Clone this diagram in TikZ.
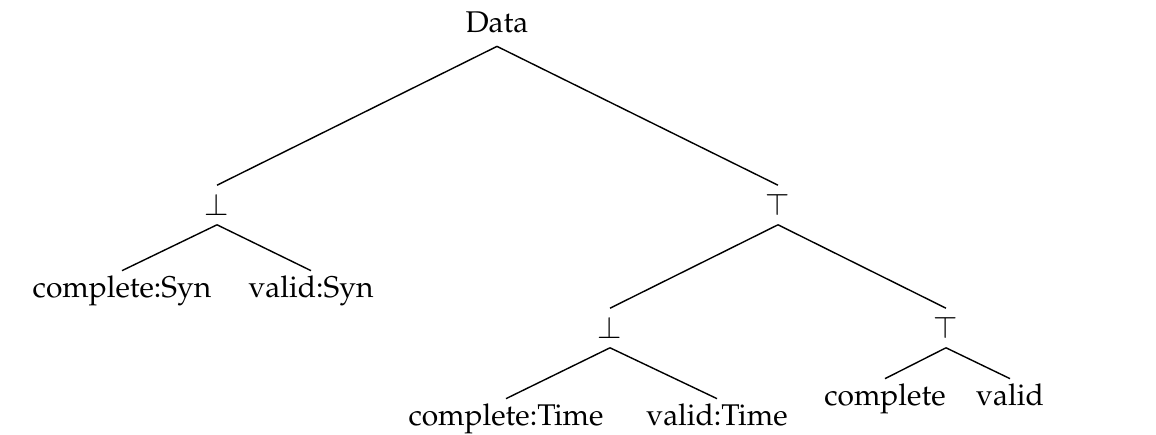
\documentclass[tikz,border=0pt]{standalone}
\usepackage[T1]{fontenc}
\usepackage{amsmath}
\usepackage{amssymb}
\usepackage{mathpazo}
\usepackage{tikz}

\tikzset{
    lbl/.style={font=\fontsize{21.3}{26}\selectfont, inner xsep=0pt, inner ysep=0.11cm},
    root/.style={lbl, inner ysep=0.35cm},
    op/.style={font=\fontsize{21.3}{26}\selectfont, inner sep=0pt, minimum height=0.975cm},
    edge/.style={line width=1pt}
}

\begin{document}
\begin{tikzpicture}[x=0.025cm, y=-0.025cm]
        \useasboundingbox (0,0) rectangle (1156,434);

        % Nodes
        \node[root, anchor=base] (data) at (497, 32) {Data};
        \node[op] (bot1) at (217, 205) {$\bot$};
        \node[op] (top1) at (778, 205) {$\top$};
        \node[lbl, anchor=base] (csyn) at (122, 297) {complete:Syn};
        \node[lbl, anchor=base] (vsyn) at (311, 297) {valid:Syn};
        \node[op] (bot2) at (610, 328) {$\bot$};
        \node[op] (top2) at (946, 328) {$\top$};
        \node[lbl, anchor=base] (ctime) at (506, 425) {complete:Time};
        \node[lbl, anchor=base] (vtime) at (717, 425) {valid:Time};
        \node[lbl, anchor=base] (comp) at (885, 405) {complete};
        \node[lbl, anchor=base] (val) at (1010, 405) {valid};

        % Edges
        \draw[edge] (data.south) -- (bot1.north);
        \draw[edge] (data.south) -- (top1.north);
        \draw[edge] (bot1.south) -- (csyn.north);
        \draw[edge] (bot1.south) -- (vsyn.north);
        \draw[edge] (top1.south) -- (bot2.north);
        \draw[edge] (top1.south) -- (top2.north);
        \draw[edge] (bot2.south) -- (ctime.north);
        \draw[edge] (bot2.south) -- (vtime.north);
        \draw[edge] (top2.south) -- (comp.north);
        \draw[edge] (top2.south) -- (val.north);
    \end{tikzpicture}
\end{document}
